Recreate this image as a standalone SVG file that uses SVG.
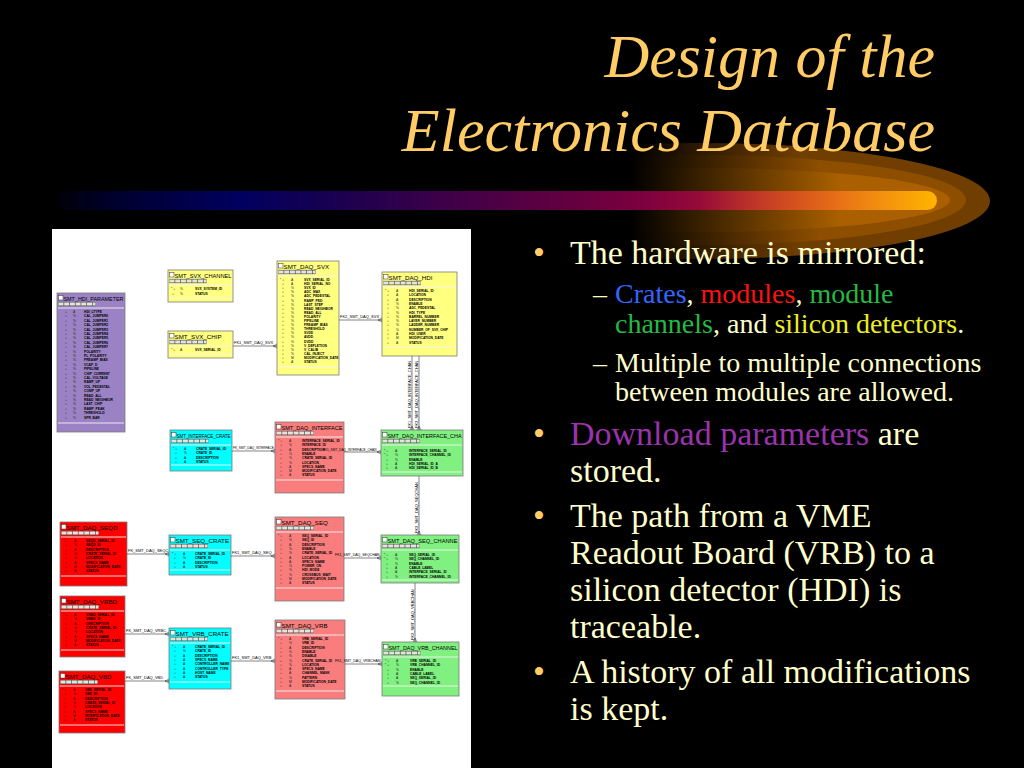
<svg xmlns="http://www.w3.org/2000/svg" width="1024" height="768" viewBox="0 0 1024 768">
<defs>
<linearGradient id="barG" gradientUnits="userSpaceOnUse" x1="57" y1="0" x2="937" y2="0">
<stop offset="0" stop-color="#000008"/>
<stop offset="0.07" stop-color="#000030"/>
<stop offset="0.21" stop-color="#000060"/>
<stop offset="0.31" stop-color="#180050"/>
<stop offset="0.45" stop-color="#400048"/>
<stop offset="0.57" stop-color="#600040"/>
<stop offset="0.66" stop-color="#7a0040"/>
<stop offset="0.73" stop-color="#960a38"/>
<stop offset="0.80" stop-color="#c43a26"/>
<stop offset="0.87" stop-color="#e26418"/>
<stop offset="0.93" stop-color="#f28c10"/>
<stop offset="1" stop-color="#ffb400"/>
</linearGradient>
<linearGradient id="sw1" gradientUnits="userSpaceOnUse" x1="630" y1="0" x2="800" y2="0">
<stop offset="0" stop-color="#000"/><stop offset="1" stop-color="#703e00"/>
</linearGradient>
<linearGradient id="sw2" gradientUnits="userSpaceOnUse" x1="630" y1="0" x2="820" y2="0">
<stop offset="0" stop-color="#000"/><stop offset="1" stop-color="#8e4e00"/>
</linearGradient>
<linearGradient id="sw3" gradientUnits="userSpaceOnUse" x1="630" y1="0" x2="840" y2="0">
<stop offset="0" stop-color="#000"/><stop offset="1" stop-color="#aa6000"/>
</linearGradient>
<marker id="crow" markerWidth="6" markerHeight="6" refX="4" refY="3" orient="auto" markerUnits="userSpaceOnUse">
<path d="M0,3 L4,1 M0,3 L4,5 M0,3 H4" fill="none" stroke="#333" stroke-width="0.5"/>
</marker>
<style>
.title{font-family:"Liberation Serif","Times New Roman",serif;font-style:italic;font-size:62px;fill:#FFCC66}
.b{font-family:"Liberation Serif","Times New Roman",serif;font-size:34px;fill:#FFFFCC}
.s{font-family:"Liberation Serif","Times New Roman",serif;font-size:28px;fill:#FFFFCC}
.dot{fill:#FFCC66}
.box{stroke:#7a7a7a;stroke-width:0.8}
.yel{fill:#FFFF80}.cya{fill:#00FFFF}.sal{fill:#FA7D7D}.grn{fill:#80F080}.red{fill:#FF0000}.pur{fill:#9B82C4}
.ico{fill:#fff;stroke:#333;stroke-width:0.5}
.tt{font-family:"Liberation Sans",Arial,sans-serif;font-size:6.2px;fill:#000}
.tb{fill:#555;stroke:#555;stroke-width:0.3}
.tbc{stroke:#e4e4dc;stroke-width:3.2;stroke-dasharray:5 0.7}
.sep{stroke:#f4f4f4;stroke-width:0.9}
.rn{font-family:"Liberation Sans",Arial,sans-serif;font-weight:bold;font-size:3.3px;fill:#000}
.rk{font-family:"Liberation Sans",Arial,sans-serif;font-size:3.3px;fill:#222}
.cn{fill:none;stroke:#333;stroke-width:0.6}
.cl{font-family:"Liberation Sans",Arial,sans-serif;font-size:4px;fill:#000}
</style>
</defs>
<rect x="0" y="0" width="1024" height="768" fill="#000"/>

<g id="swoosh">
<ellipse cx="700" cy="201" rx="290" ry="58" fill="url(#sw1)"/>
<ellipse cx="700" cy="200" rx="266" ry="45" fill="url(#sw2)"/>
<ellipse cx="700" cy="200" rx="250" ry="32" fill="url(#sw3)"/>
<rect x="57" y="191" width="880" height="19" rx="9.5" fill="url(#barG)"/>
</g>

<g id="heading">
<text class="title" x="935" y="77" text-anchor="end">Design of the</text>
<text class="title" x="935" y="151" text-anchor="end">Electronics Database</text>
</g>

<g id="bullets">
<text class="b dot" x="533" y="264">•</text>
<text class="b" x="570" y="264">The hardware is mirrored:</text>
<text class="s" x="593" y="303">–</text>
<text class="s" x="615" y="303"><tspan fill="#3366FF">Crates</tspan>, <tspan fill="#FF1111">modules</tspan>, <tspan fill="#22BB44">module</tspan></text>
<text class="s" x="615" y="333"><tspan fill="#22BB44">channels</tspan>, and <tspan fill="#EEEE22">silicon detectors</tspan>.</text>
<text class="s" x="593" y="372">–</text>
<text class="s" x="615" y="372">Multiple to multiple connections</text>
<text class="s" x="615" y="401">between modules are allowed.</text>
<text class="b dot" x="533" y="445">•</text>
<text class="b" x="570" y="445"><tspan fill="#9933AA">Download parameters</tspan> are</text>
<text class="b" x="570" y="482">stored.</text>
<text class="b dot" x="533" y="527">•</text>
<text class="b" x="570" y="527">The path from a VME</text>
<text class="b" x="570" y="564">Readout Board (VRB) to a</text>
<text class="b" x="570" y="601">silicon detector (HDI) is</text>
<text class="b" x="570" y="638">traceable.</text>
<text class="b dot" x="533" y="683">•</text>
<text class="b" x="570" y="683">A history of all modifications</text>
<text class="b" x="570" y="720">is kept.</text>
</g>

<g id="er-diagram">
<rect x="52" y="229" width="419" height="539" fill="#fff"/>

<g id="n-hdi-parameter">
<rect class="box pur" x="57" y="293" width="68" height="139"/>
<rect class="ico" x="58.5" y="295.5" width="4.5" height="4.5"/>
<text class="tt" x="63.5" y="300.5" textLength="60" lengthAdjust="spacingAndGlyphs">SMT_HDI_PARAMETER</text>
<rect class="tb" x="58.5" y="302" width="37" height="4"/><line class="tbc" x1="58.5" y1="304" x2="95.5" y2="304"/>
<line class="sep" x1="58" y1="308" x2="124" y2="308"/>
<text class="rk"><tspan x="65" y="313">○</tspan><tspan x="65" dy="4.4">○</tspan><tspan x="65" dy="4.4">○</tspan><tspan x="65" dy="4.4">○</tspan><tspan x="65" dy="4.4">○</tspan><tspan x="65" dy="4.4">○</tspan><tspan x="65" dy="4.4">○</tspan><tspan x="65" dy="4.4">○</tspan><tspan x="65" dy="4.4">○</tspan><tspan x="65" dy="4.4">○</tspan><tspan x="65" dy="4.4">○</tspan><tspan x="65" dy="4.4">○</tspan><tspan x="65" dy="4.4">○</tspan><tspan x="65" dy="4.4">○</tspan><tspan x="65" dy="4.4">○</tspan><tspan x="65" dy="4.4">○</tspan><tspan x="65" dy="4.4">○</tspan><tspan x="65" dy="4.4">○</tspan><tspan x="65" dy="4.4">○</tspan><tspan x="65" dy="4.4">○</tspan><tspan x="65" dy="4.4">○</tspan><tspan x="65" dy="4.4">○</tspan><tspan x="65" dy="4.4">○</tspan><tspan x="65" dy="4.4">○</tspan><tspan x="65" dy="4.4">○</tspan></text>
<text class="rk"><tspan x="73" y="313">A</tspan><tspan x="73" dy="4.4">%</tspan><tspan x="73" dy="4.4">%</tspan><tspan x="73" dy="4.4">%</tspan><tspan x="73" dy="4.4">%</tspan><tspan x="73" dy="4.4">%</tspan><tspan x="73" dy="4.4">%</tspan><tspan x="73" dy="4.4">%</tspan><tspan x="73" dy="4.4">%</tspan><tspan x="73" dy="4.4">%</tspan><tspan x="73" dy="4.4">%</tspan><tspan x="73" dy="4.4">%</tspan><tspan x="73" dy="4.4">%</tspan><tspan x="73" dy="4.4">%</tspan><tspan x="73" dy="4.4">%</tspan><tspan x="73" dy="4.4">%</tspan><tspan x="73" dy="4.4">%</tspan><tspan x="73" dy="4.4">%</tspan><tspan x="73" dy="4.4">%</tspan><tspan x="73" dy="4.4">%</tspan><tspan x="73" dy="4.4">%</tspan><tspan x="73" dy="4.4">%</tspan><tspan x="73" dy="4.4">%</tspan><tspan x="73" dy="4.4">%</tspan><tspan x="73" dy="4.4">%</tspan></text>
<text class="rn"><tspan x="84" y="313">HDI_LTYPE</tspan><tspan x="84" dy="4.4">CAL_JUMPER0</tspan><tspan x="84" dy="4.4">CAL_JUMPER1</tspan><tspan x="84" dy="4.4">CAL_JUMPER2</tspan><tspan x="84" dy="4.4">CAL_JUMPER3</tspan><tspan x="84" dy="4.4">CAL_JUMPER4</tspan><tspan x="84" dy="4.4">CAL_JUMPER5</tspan><tspan x="84" dy="4.4">CAL_JUMPER6</tspan><tspan x="84" dy="4.4">CAL_JUMPER7</tspan><tspan x="84" dy="4.4">POLARITY</tspan><tspan x="84" dy="4.4">PL_POLARITY</tspan><tspan x="84" dy="4.4">PREAMP_BIAS</tspan><tspan x="84" dy="4.4">VCAP_D</tspan><tspan x="84" dy="4.4">PIPELINE</tspan><tspan x="84" dy="4.4">CHIP_CURRENT</tspan><tspan x="84" dy="4.4">CAL_VOLTAGE</tspan><tspan x="84" dy="4.4">RAMP_UP</tspan><tspan x="84" dy="4.4">VOL_PEDESTAL</tspan><tspan x="84" dy="4.4">COMP_UP</tspan><tspan x="84" dy="4.4">READ_ALL</tspan><tspan x="84" dy="4.4">READ_NEIGHBOR</tspan><tspan x="84" dy="4.4">LAST_CHIP</tspan><tspan x="84" dy="4.4">RAMP_PEAK</tspan><tspan x="84" dy="4.4">THRESHOLD</tspan><tspan x="84" dy="4.4">SPR_BAR</tspan></text>
<line class="sep" x1="58" y1="423" x2="124" y2="423"/>
</g>

<g id="n-svx-channel">
<rect class="box yel" x="168" y="270" width="65" height="32"/>
<rect class="ico" x="169.5" y="272.5" width="4.5" height="4.5"/>
<text class="tt" x="174.5" y="277.5" textLength="57" lengthAdjust="spacingAndGlyphs">SMT_SVX_CHANNEL</text>
<rect class="tb" x="169.5" y="279" width="37" height="4"/><line class="tbc" x1="169.5" y1="281" x2="206.5" y2="281"/>
<line class="sep" x1="169" y1="285" x2="232" y2="285"/>
<text class="rk"><tspan x="171" y="290">* ○</tspan><tspan x="172" dy="4.8">○</tspan></text>
<text class="rk"><tspan x="180" y="290">%</tspan><tspan x="180" dy="4.8">%</tspan></text>
<text class="rn"><tspan x="195" y="290">SVX_SYSTEM_ID</tspan><tspan x="195" dy="4.8">STATUS</tspan></text>
<line class="sep" x1="169" y1="298" x2="232" y2="298"/>
</g>

<g id="n-svx-chip">
<rect class="box yel" x="168" y="331" width="65" height="27"/>
<rect class="ico" x="169.5" y="333.5" width="4.5" height="4.5"/>
<text class="tt" x="174.5" y="338.5">SMT_SVX_CHIP</text>
<rect class="tb" x="169.5" y="340" width="37" height="4"/><line class="tbc" x1="169.5" y1="342" x2="206.5" y2="342"/>
<line class="sep" x1="169" y1="346" x2="232" y2="346"/>
<text class="rk" x="171" y="351">* ○</text>
<text class="rk" x="180" y="351">A</text>
<text class="rn" x="195" y="351">SVX_SERIAL_ID</text>
<line class="sep" x1="169" y1="354" x2="232" y2="354"/>
</g>

<g id="n-daq-svx">
<rect class="box yel" x="277" y="261" width="62" height="114"/>
<rect class="ico" x="278.5" y="263.5" width="4.5" height="4.5"/>
<text class="tt" x="283.5" y="268.5">SMT_DAQ_SVX</text>
<rect class="tb" x="278.5" y="270" width="37" height="4"/><line class="tbc" x1="278.5" y1="272" x2="315.5" y2="272"/>
<line class="sep" x1="278" y1="276" x2="338" y2="276"/>
<text class="rk"><tspan x="280" y="281">* ○</tspan><tspan x="282" dy="4.1">○</tspan><tspan x="282" dy="4.1">○</tspan><tspan x="282" dy="4.1">○</tspan><tspan x="282" dy="4.1">○</tspan><tspan x="282" dy="4.1">○</tspan><tspan x="282" dy="4.1">○</tspan><tspan x="282" dy="4.1">○</tspan><tspan x="282" dy="4.1">○</tspan><tspan x="282" dy="4.1">○</tspan><tspan x="282" dy="4.1">○</tspan><tspan x="282" dy="4.1">○</tspan><tspan x="282" dy="4.1">○</tspan><tspan x="282" dy="4.1">○</tspan><tspan x="282" dy="4.1">○</tspan><tspan x="282" dy="4.1">○</tspan><tspan x="282" dy="4.1">○</tspan><tspan x="282" dy="4.1">○</tspan><tspan x="282" dy="4.1">○</tspan><tspan x="282" dy="4.1">○</tspan><tspan x="282" dy="4.1">○</tspan></text>
<text class="rk"><tspan x="291" y="281">A</tspan><tspan x="291" dy="4.1">A</tspan><tspan x="291" dy="4.1">%</tspan><tspan x="291" dy="4.1">%</tspan><tspan x="291" dy="4.1">%</tspan><tspan x="291" dy="4.1">%</tspan><tspan x="291" dy="4.1">%</tspan><tspan x="291" dy="4.1">%</tspan><tspan x="291" dy="4.1">%</tspan><tspan x="291" dy="4.1">%</tspan><tspan x="291" dy="4.1">%</tspan><tspan x="291" dy="4.1">%</tspan><tspan x="291" dy="4.1">%</tspan><tspan x="291" dy="4.1">%</tspan><tspan x="291" dy="4.1">%</tspan><tspan x="291" dy="4.1">%</tspan><tspan x="291" dy="4.1">%</tspan><tspan x="291" dy="4.1">%</tspan><tspan x="291" dy="4.1">%</tspan><tspan x="291" dy="4.1">M</tspan><tspan x="291" dy="4.1">A</tspan></text>
<text class="rn"><tspan x="304" y="281">SVX_SERIAL_ID</tspan><tspan x="304" dy="4.1">HDI_SERIAL_NO</tspan><tspan x="304" dy="4.1">SVX_ID</tspan><tspan x="304" dy="4.1">ADC_MAX</tspan><tspan x="304" dy="4.1">ADC_PEDESTAL</tspan><tspan x="304" dy="4.1">RAMP_PED</tspan><tspan x="304" dy="4.1">LAST_STEP</tspan><tspan x="304" dy="4.1">READ_NEIGHBOR</tspan><tspan x="304" dy="4.1">READ_ALL</tspan><tspan x="304" dy="4.1">POLARITY</tspan><tspan x="304" dy="4.1">PIPELINE</tspan><tspan x="304" dy="4.1">PREAMP_BIAS</tspan><tspan x="304" dy="4.1">THRESHOLD</tspan><tspan x="304" dy="4.1">SVDD</tspan><tspan x="304" dy="4.1">AVDD</tspan><tspan x="304" dy="4.1">DVDD</tspan><tspan x="304" dy="4.1">V_DEPLETION</tspan><tspan x="304" dy="4.1">V_CALIB</tspan><tspan x="304" dy="4.1">CAL_INJECT</tspan><tspan x="304" dy="4.1">MODIFICATION_DATE</tspan><tspan x="304" dy="4.1">STATUS</tspan></text>
<line class="sep" x1="278" y1="367" x2="338" y2="367"/>
</g>

<g id="n-daq-hdi">
<rect class="box yel" x="382" y="272" width="75" height="84"/>
<rect class="ico" x="383.5" y="274.5" width="4.5" height="4.5"/>
<text class="tt" x="388.5" y="279.5">SMT_DAQ_HDI</text>
<rect class="tb" x="383.5" y="281" width="37" height="4"/><line class="tbc" x1="383.5" y1="283" x2="420.5" y2="283"/>
<line class="sep" x1="383" y1="287" x2="456" y2="287"/>
<text class="rk"><tspan x="385" y="292">* ○</tspan><tspan x="387" dy="4.3">○</tspan><tspan x="387" dy="4.3">○</tspan><tspan x="387" dy="4.3">○</tspan><tspan x="387" dy="4.3">○</tspan><tspan x="387" dy="4.3">○</tspan><tspan x="387" dy="4.3">○</tspan><tspan x="387" dy="4.3">○</tspan><tspan x="387" dy="4.3">○</tspan><tspan x="387" dy="4.3">○</tspan><tspan x="387" dy="4.3">○</tspan><tspan x="387" dy="4.3">○</tspan><tspan x="387" dy="4.3">○</tspan></text>
<text class="rk"><tspan x="396" y="292">A</tspan><tspan x="396" dy="4.3">A</tspan><tspan x="396" dy="4.3">A</tspan><tspan x="396" dy="4.3">%</tspan><tspan x="396" dy="4.3">%</tspan><tspan x="396" dy="4.3">%</tspan><tspan x="396" dy="4.3">%</tspan><tspan x="396" dy="4.3">%</tspan><tspan x="396" dy="4.3">%</tspan><tspan x="396" dy="4.3">%</tspan><tspan x="396" dy="4.3">A</tspan><tspan x="396" dy="4.3">M</tspan><tspan x="396" dy="4.3">A</tspan></text>
<text class="rn"><tspan x="409" y="292">HDI_SERIAL_ID</tspan><tspan x="409" dy="4.3">LOCATION</tspan><tspan x="409" dy="4.3">DESCRIPTION</tspan><tspan x="409" dy="4.3">ENABLE</tspan><tspan x="409" dy="4.3">ADC_PEDESTAL</tspan><tspan x="409" dy="4.3">HDI_TYPE</tspan><tspan x="409" dy="4.3">BARREL_NUMBER</tspan><tspan x="409" dy="4.3">LAYER_NUMBER</tspan><tspan x="409" dy="4.3">LADDER_NUMBER</tspan><tspan x="409" dy="4.3">NUMBER_OF_SVX_CHIP</tspan><tspan x="409" dy="4.3">HDI_USER</tspan><tspan x="409" dy="4.3">MODIFICATION_DATE</tspan><tspan x="409" dy="4.3">STATUS</tspan></text>
<line class="sep" x1="383" y1="347" x2="456" y2="347"/>
</g>

<g id="n-interface-crate">
<rect class="box cya" x="170" y="430" width="62" height="41"/>
<rect class="ico" x="171.5" y="432.5" width="4.5" height="4.5"/>
<text class="tt" x="176.5" y="437.5" textLength="54" lengthAdjust="spacingAndGlyphs">SMT_INTERFACE_CRATE</text>
<rect class="tb" x="171.5" y="439" width="37" height="4"/><line class="tbc" x1="171.5" y1="441" x2="208.5" y2="441"/>
<line class="sep" x1="171" y1="445" x2="231" y2="445"/>
<text class="rk"><tspan x="173" y="450">* ○</tspan><tspan x="175" dy="4.3">○</tspan><tspan x="175" dy="4.3">○</tspan><tspan x="175" dy="4.3">○</tspan></text>
<text class="rk"><tspan x="184" y="450">A</tspan><tspan x="184" dy="4.3">%</tspan><tspan x="184" dy="4.3">A</tspan><tspan x="184" dy="4.3">A</tspan></text>
<text class="rn"><tspan x="196" y="450">CRATE_SERIAL_ID</tspan><tspan x="196" dy="4.3">CRATE_ID</tspan><tspan x="196" dy="4.3">DESCRIPTION</tspan><tspan x="196" dy="4.3">STATUS</tspan></text>
<line class="sep" x1="171" y1="465" x2="231" y2="465"/>
</g>

<g id="n-daq-interface">
<rect class="box sal" x="275" y="422" width="69" height="71"/>
<rect class="ico" x="276.5" y="424.5" width="4.5" height="4.5"/>
<text class="tt" x="281.5" y="429.5" textLength="61" lengthAdjust="spacingAndGlyphs">SMT_DAQ_INTERFACE</text>
<rect class="tb" x="276.5" y="431" width="37" height="4"/><line class="tbc" x1="276.5" y1="433" x2="313.5" y2="433"/>
<line class="sep" x1="276" y1="437" x2="343" y2="437"/>
<text class="rk"><tspan x="278" y="442">* ○</tspan><tspan x="280" dy="4.3">○</tspan><tspan x="280" dy="4.3">○</tspan><tspan x="280" dy="4.3">○</tspan><tspan x="280" dy="4.3">○</tspan><tspan x="280" dy="4.3">○</tspan><tspan x="280" dy="4.3">○</tspan><tspan x="280" dy="4.3">○</tspan><tspan x="280" dy="4.3">○</tspan></text>
<text class="rk"><tspan x="289" y="442">A</tspan><tspan x="289" dy="4.3">%</tspan><tspan x="289" dy="4.3">A</tspan><tspan x="289" dy="4.3">%</tspan><tspan x="289" dy="4.3">%</tspan><tspan x="289" dy="4.3">%</tspan><tspan x="289" dy="4.3">A</tspan><tspan x="289" dy="4.3">M</tspan><tspan x="289" dy="4.3">A</tspan></text>
<text class="rn"><tspan x="302" y="442">INTERFACE_SERIAL_ID</tspan><tspan x="302" dy="4.3">INTERFACE_ID</tspan><tspan x="302" dy="4.3">DESCRIPTION</tspan><tspan x="302" dy="4.3">ENABLE</tspan><tspan x="302" dy="4.3">CRATE_SERIAL_ID</tspan><tspan x="302" dy="4.3">LOCATION</tspan><tspan x="302" dy="4.3">SPECS_NAME</tspan><tspan x="302" dy="4.3">MODIFICATION_DATE</tspan><tspan x="302" dy="4.3">STATUS</tspan></text>
<line class="sep" x1="276" y1="480" x2="343" y2="480"/>
</g>

<g id="n-daq-interface-channel">
<rect class="box grn" x="381" y="430" width="82" height="46"/>
<rect class="ico" x="382.5" y="432.5" width="4.5" height="4.5"/>
<text class="tt" x="387.5" y="437.5" textLength="74" lengthAdjust="spacingAndGlyphs">SMT_DAQ_INTERFACE_CHA</text>
<rect class="tb" x="382.5" y="439" width="37" height="4"/><line class="tbc" x1="382.5" y1="441" x2="419.5" y2="441"/>
<line class="sep" x1="382" y1="445" x2="462" y2="445"/>
<text class="rk"><tspan x="384" y="452">* ○</tspan><tspan x="384" dy="4.3">* ○</tspan><tspan x="386" dy="4.3">○</tspan><tspan x="386" dy="4.3">○</tspan><tspan x="386" dy="4.3">○</tspan></text>
<text class="rk"><tspan x="395" y="452">A</tspan><tspan x="395" dy="4.3">%</tspan><tspan x="395" dy="4.3">%</tspan><tspan x="395" dy="4.3">A</tspan><tspan x="395" dy="4.3">A</tspan></text>
<text class="rn"><tspan x="409" y="452">INTERFACE_SERIAL_ID</tspan><tspan x="409" dy="4.3">INTERFACE_CHANNEL_ID</tspan><tspan x="409" dy="4.3">ENABLE</tspan><tspan x="409" dy="4.3">HDI_SERIAL_ID_A</tspan><tspan x="409" dy="4.3">HDI_SERIAL_ID_B</tspan></text>
<line class="sep" x1="382" y1="472" x2="462" y2="472"/>
</g>

<g id="n-daq-seqd">
<rect class="box red" x="60" y="522" width="67" height="64"/>
<rect class="ico" x="61.5" y="524.5" width="4.5" height="4.5"/>
<text class="tt" x="66.5" y="529.5">SMT_DAQ_SEQD</text>
<rect class="tb" x="61.5" y="531" width="37" height="4"/><line class="tbc" x1="61.5" y1="533" x2="98.5" y2="533"/>
<line class="sep" x1="61" y1="537" x2="126" y2="537"/>
<text class="rk"><tspan x="63" y="542">* ○</tspan><tspan x="65" dy="4.3">○</tspan><tspan x="65" dy="4.3">○</tspan><tspan x="65" dy="4.3">○</tspan><tspan x="65" dy="4.3">○</tspan><tspan x="65" dy="4.3">○</tspan><tspan x="65" dy="4.3">○</tspan><tspan x="65" dy="4.3">○</tspan></text>
<text class="rk"><tspan x="74" y="542">A</tspan><tspan x="74" dy="4.3">%</tspan><tspan x="74" dy="4.3">A</tspan><tspan x="74" dy="4.3">%</tspan><tspan x="74" dy="4.3">%</tspan><tspan x="74" dy="4.3">A</tspan><tspan x="74" dy="4.3">M</tspan><tspan x="74" dy="4.3">A</tspan></text>
<text class="rn"><tspan x="86" y="542">SEQD_SERIAL_ID</tspan><tspan x="86" dy="4.3">SEQD_ID</tspan><tspan x="86" dy="4.3">DESCRIPTION</tspan><tspan x="86" dy="4.3">CRATE_SERIAL_ID</tspan><tspan x="86" dy="4.3">LOCATION</tspan><tspan x="86" dy="4.3">SPECS_NAME</tspan><tspan x="86" dy="4.3">MODIFICATION_DATE</tspan><tspan x="86" dy="4.3">STATUS</tspan></text>
<line class="sep" x1="61" y1="576" x2="126" y2="576"/>
</g>

<g id="n-seq-crate">
<rect class="box cya" x="169" y="535" width="62" height="40"/>
<rect class="ico" x="170.5" y="537.5" width="4.5" height="4.5"/>
<text class="tt" x="175.5" y="542.5">SMT_SEQ_CRATE</text>
<rect class="tb" x="170.5" y="544" width="37" height="4"/><line class="tbc" x1="170.5" y1="546" x2="207.5" y2="546"/>
<line class="sep" x1="170" y1="550" x2="230" y2="550"/>
<text class="rk"><tspan x="172" y="555">* ○</tspan><tspan x="174" dy="4.3">○</tspan><tspan x="174" dy="4.3">○</tspan><tspan x="174" dy="4.3">○</tspan></text>
<text class="rk"><tspan x="183" y="555">A</tspan><tspan x="183" dy="4.3">%</tspan><tspan x="183" dy="4.3">A</tspan><tspan x="183" dy="4.3">A</tspan></text>
<text class="rn"><tspan x="195" y="555">CRATE_SERIAL_ID</tspan><tspan x="195" dy="4.3">CRATE_ID</tspan><tspan x="195" dy="4.3">DESCRIPTION</tspan><tspan x="195" dy="4.3">STATUS</tspan></text>
<line class="sep" x1="170" y1="570" x2="230" y2="570"/>
</g>

<g id="n-daq-seq">
<rect class="box sal" x="275" y="517" width="69" height="84"/>
<rect class="ico" x="276.5" y="519.5" width="4.5" height="4.5"/>
<text class="tt" x="281.5" y="524.5">SMT_DAQ_SEQ</text>
<rect class="tb" x="276.5" y="526" width="37" height="4"/><line class="tbc" x1="276.5" y1="528" x2="313.5" y2="528"/>
<line class="sep" x1="276" y1="532" x2="343" y2="532"/>
<text class="rk"><tspan x="278" y="537">* ○</tspan><tspan x="280" dy="4.3">○</tspan><tspan x="280" dy="4.3">○</tspan><tspan x="280" dy="4.3">○</tspan><tspan x="280" dy="4.3">○</tspan><tspan x="280" dy="4.3">○</tspan><tspan x="280" dy="4.3">○</tspan><tspan x="280" dy="4.3">○</tspan><tspan x="280" dy="4.3">○</tspan><tspan x="280" dy="4.3">○</tspan><tspan x="280" dy="4.3">○</tspan><tspan x="280" dy="4.3">○</tspan></text>
<text class="rk"><tspan x="289" y="537">A</tspan><tspan x="289" dy="4.3">%</tspan><tspan x="289" dy="4.3">A</tspan><tspan x="289" dy="4.3">%</tspan><tspan x="289" dy="4.3">%</tspan><tspan x="289" dy="4.3">A</tspan><tspan x="289" dy="4.3">A</tspan><tspan x="289" dy="4.3">%</tspan><tspan x="289" dy="4.3">%</tspan><tspan x="289" dy="4.3">%</tspan><tspan x="289" dy="4.3">M</tspan><tspan x="289" dy="4.3">A</tspan></text>
<text class="rn"><tspan x="302" y="537">SEQ_SERIAL_ID</tspan><tspan x="302" dy="4.3">SEQ_ID</tspan><tspan x="302" dy="4.3">DESCRIPTION</tspan><tspan x="302" dy="4.3">ENABLE</tspan><tspan x="302" dy="4.3">CRATE_SERIAL_ID</tspan><tspan x="302" dy="4.3">LOCATION</tspan><tspan x="302" dy="4.3">SPECS_NAME</tspan><tspan x="302" dy="4.3">POWER_ON</tspan><tspan x="302" dy="4.3">HDI_MODE</tspan><tspan x="302" dy="4.3">CROSSBUS_WAIT</tspan><tspan x="302" dy="4.3">MODIFICATION_DATE</tspan><tspan x="302" dy="4.3">STATUS</tspan></text>
<line class="sep" x1="276" y1="588" x2="343" y2="588"/>
</g>

<g id="n-daq-seq-channel">
<rect class="box grn" x="381" y="535" width="78" height="48"/>
<rect class="ico" x="382.5" y="537.5" width="4.5" height="4.5"/>
<text class="tt" x="387.5" y="542.5" textLength="70" lengthAdjust="spacingAndGlyphs">SMT_DAQ_SEQ_CHANNE</text>
<rect class="tb" x="382.5" y="544" width="37" height="4"/><line class="tbc" x1="382.5" y1="546" x2="419.5" y2="546"/>
<line class="sep" x1="382" y1="550" x2="458" y2="550"/>
<text class="rk"><tspan x="384" y="556">* ○</tspan><tspan x="384" dy="4.3">* ○</tspan><tspan x="386" dy="4.3">○</tspan><tspan x="386" dy="4.3">○</tspan><tspan x="386" dy="4.3">○</tspan><tspan x="386" dy="4.3">○</tspan></text>
<text class="rk"><tspan x="395" y="556">A</tspan><tspan x="395" dy="4.3">%</tspan><tspan x="395" dy="4.3">%</tspan><tspan x="395" dy="4.3">A</tspan><tspan x="395" dy="4.3">A</tspan><tspan x="395" dy="4.3">%</tspan></text>
<text class="rn"><tspan x="409" y="556">SEQ_SERIAL_ID</tspan><tspan x="409" dy="4.3">SEQ_CHANNEL_ID</tspan><tspan x="409" dy="4.3">ENABLE</tspan><tspan x="409" dy="4.3">CABLE_LABEL</tspan><tspan x="409" dy="4.3">INTERFACE_SERIAL_ID</tspan><tspan x="409" dy="4.3">INTERFACE_CHANNEL_ID</tspan></text>
<line class="sep" x1="382" y1="580" x2="458" y2="580"/>
</g>

<g id="n-daq-vrbd">
<rect class="box red" x="60" y="596" width="65" height="61"/>
<rect class="ico" x="61.5" y="598.5" width="4.5" height="4.5"/>
<text class="tt" x="66.5" y="603.5">SMT_DAQ_VRBD</text>
<rect class="tb" x="61.5" y="605" width="37" height="4"/><line class="tbc" x1="61.5" y1="607" x2="98.5" y2="607"/>
<line class="sep" x1="61" y1="611" x2="124" y2="611"/>
<text class="rk"><tspan x="63" y="616">* ○</tspan><tspan x="65" dy="4.3">○</tspan><tspan x="65" dy="4.3">○</tspan><tspan x="65" dy="4.3">○</tspan><tspan x="65" dy="4.3">○</tspan><tspan x="65" dy="4.3">○</tspan><tspan x="65" dy="4.3">○</tspan><tspan x="65" dy="4.3">○</tspan></text>
<text class="rk"><tspan x="74" y="616">A</tspan><tspan x="74" dy="4.3">%</tspan><tspan x="74" dy="4.3">A</tspan><tspan x="74" dy="4.3">%</tspan><tspan x="74" dy="4.3">%</tspan><tspan x="74" dy="4.3">A</tspan><tspan x="74" dy="4.3">M</tspan><tspan x="74" dy="4.3">A</tspan></text>
<text class="rn"><tspan x="86" y="616">VRBD_SERIAL_ID</tspan><tspan x="86" dy="4.3">VRBD_ID</tspan><tspan x="86" dy="4.3">DESCRIPTION</tspan><tspan x="86" dy="4.3">CRATE_SERIAL_ID</tspan><tspan x="86" dy="4.3">LOCATION</tspan><tspan x="86" dy="4.3">SPECS_NAME</tspan><tspan x="86" dy="4.3">MODIFICATION_DATE</tspan><tspan x="86" dy="4.3">STATUS</tspan></text>
<line class="sep" x1="61" y1="650" x2="124" y2="650"/>
</g>

<g id="n-vrb-crate">
<rect class="box cya" x="169" y="628" width="62" height="61"/>
<rect class="ico" x="170.5" y="630.5" width="4.5" height="4.5"/>
<text class="tt" x="175.5" y="635.5">SMT_VRB_CRATE</text>
<rect class="tb" x="170.5" y="637" width="37" height="4"/><line class="tbc" x1="170.5" y1="639" x2="207.5" y2="639"/>
<line class="sep" x1="170" y1="643" x2="230" y2="643"/>
<text class="rk"><tspan x="172" y="648">* ○</tspan><tspan x="174" dy="4.3">○</tspan><tspan x="174" dy="4.3">○</tspan><tspan x="174" dy="4.3">○</tspan><tspan x="174" dy="4.3">○</tspan><tspan x="174" dy="4.3">○</tspan><tspan x="174" dy="4.3">○</tspan><tspan x="174" dy="4.3">○</tspan></text>
<text class="rk"><tspan x="183" y="648">A</tspan><tspan x="183" dy="4.3">%</tspan><tspan x="183" dy="4.3">A</tspan><tspan x="183" dy="4.3">A</tspan><tspan x="183" dy="4.3">A</tspan><tspan x="183" dy="4.3">A</tspan><tspan x="183" dy="4.3">A</tspan><tspan x="183" dy="4.3">A</tspan></text>
<text class="rn"><tspan x="195" y="648">CRATE_SERIAL_ID</tspan><tspan x="195" dy="4.3">CRATE_ID</tspan><tspan x="195" dy="4.3">DESCRIPTION</tspan><tspan x="195" dy="4.3">SPECS_NAME</tspan><tspan x="195" dy="4.3">CONTROLLER_NAME</tspan><tspan x="195" dy="4.3">CONTROLLER_TYPE</tspan><tspan x="195" dy="4.3">HOST_NAME</tspan><tspan x="195" dy="4.3">STATUS</tspan></text>
<line class="sep" x1="170" y1="682" x2="230" y2="682"/>
</g>

<g id="n-daq-vrb">
<rect class="box sal" x="275" y="620" width="70" height="79"/>
<rect class="ico" x="276.5" y="622.5" width="4.5" height="4.5"/>
<text class="tt" x="281.5" y="627.5">SMT_DAQ_VRB</text>
<rect class="tb" x="276.5" y="629" width="37" height="4"/><line class="tbc" x1="276.5" y1="631" x2="313.5" y2="631"/>
<line class="sep" x1="276" y1="635" x2="344" y2="635"/>
<text class="rk"><tspan x="278" y="640">* ○</tspan><tspan x="280" dy="4.3">○</tspan><tspan x="280" dy="4.3">○</tspan><tspan x="280" dy="4.3">○</tspan><tspan x="280" dy="4.3">○</tspan><tspan x="280" dy="4.3">○</tspan><tspan x="280" dy="4.3">○</tspan><tspan x="280" dy="4.3">○</tspan><tspan x="280" dy="4.3">○</tspan><tspan x="280" dy="4.3">○</tspan><tspan x="280" dy="4.3">○</tspan><tspan x="280" dy="4.3">○</tspan></text>
<text class="rk"><tspan x="289" y="640">A</tspan><tspan x="289" dy="4.3">%</tspan><tspan x="289" dy="4.3">A</tspan><tspan x="289" dy="4.3">%</tspan><tspan x="289" dy="4.3">%</tspan><tspan x="289" dy="4.3">%</tspan><tspan x="289" dy="4.3">%</tspan><tspan x="289" dy="4.3">A</tspan><tspan x="289" dy="4.3">A</tspan><tspan x="289" dy="4.3">%</tspan><tspan x="289" dy="4.3">M</tspan><tspan x="289" dy="4.3">A</tspan></text>
<text class="rn"><tspan x="302" y="640">VRB_SERIAL_ID</tspan><tspan x="302" dy="4.3">VRB_ID</tspan><tspan x="302" dy="4.3">DESCRIPTION</tspan><tspan x="302" dy="4.3">ENABLE</tspan><tspan x="302" dy="4.3">DISABLE</tspan><tspan x="302" dy="4.3">CRATE_SERIAL_ID</tspan><tspan x="302" dy="4.3">LOCATION</tspan><tspan x="302" dy="4.3">SPECS_NAME</tspan><tspan x="302" dy="4.3">CHANNEL_MASK</tspan><tspan x="302" dy="4.3">PATTERN</tspan><tspan x="302" dy="4.3">MODIFICATION_DATE</tspan><tspan x="302" dy="4.3">STATUS</tspan></text>
<line class="sep" x1="276" y1="691" x2="344" y2="691"/>
</g>

<g id="n-daq-vrb-channel">
<rect class="box grn" x="382" y="642" width="77" height="54"/>
<rect class="ico" x="383.5" y="644.5" width="4.5" height="4.5"/>
<text class="tt" x="388.5" y="649.5" textLength="69" lengthAdjust="spacingAndGlyphs">SMT_DAQ_VRB_CHANNEL</text>
<rect class="tb" x="383.5" y="651" width="37" height="4"/><line class="tbc" x1="383.5" y1="653" x2="420.5" y2="653"/>
<line class="sep" x1="383" y1="657" x2="458" y2="657"/>
<text class="rk"><tspan x="385" y="662">* ○</tspan><tspan x="385" dy="4.3">* ○</tspan><tspan x="387" dy="4.3">○</tspan><tspan x="387" dy="4.3">○</tspan><tspan x="387" dy="4.3">○</tspan><tspan x="387" dy="4.3">○</tspan></text>
<text class="rk"><tspan x="396" y="662">A</tspan><tspan x="396" dy="4.3">%</tspan><tspan x="396" dy="4.3">%</tspan><tspan x="396" dy="4.3">A</tspan><tspan x="396" dy="4.3">A</tspan><tspan x="396" dy="4.3">%</tspan></text>
<text class="rn"><tspan x="410" y="662">VRB_SERIAL_ID</tspan><tspan x="410" dy="4.3">VRB_CHANNEL_ID</tspan><tspan x="410" dy="4.3">ENABLE</tspan><tspan x="410" dy="4.3">CABLE_LABEL</tspan><tspan x="410" dy="4.3">SEQ_SERIAL_ID</tspan><tspan x="410" dy="4.3">SEQ_CHANNEL_ID</tspan></text>
<line class="sep" x1="383" y1="686" x2="458" y2="686"/>
</g>

<g id="n-daq-vbd">
<rect class="box red" x="59" y="671" width="66" height="62"/>
<rect class="ico" x="60.5" y="673.5" width="4.5" height="4.5"/>
<text class="tt" x="65.5" y="678.5">SMT_DAQ_VBD</text>
<rect class="tb" x="60.5" y="680" width="37" height="4"/><line class="tbc" x1="60.5" y1="682" x2="97.5" y2="682"/>
<line class="sep" x1="60" y1="686" x2="124" y2="686"/>
<text class="rk"><tspan x="62" y="691">* ○</tspan><tspan x="64" dy="4.3">○</tspan><tspan x="64" dy="4.3">○</tspan><tspan x="64" dy="4.3">○</tspan><tspan x="64" dy="4.3">○</tspan><tspan x="64" dy="4.3">○</tspan><tspan x="64" dy="4.3">○</tspan><tspan x="64" dy="4.3">○</tspan></text>
<text class="rk"><tspan x="73" y="691">A</tspan><tspan x="73" dy="4.3">%</tspan><tspan x="73" dy="4.3">A</tspan><tspan x="73" dy="4.3">%</tspan><tspan x="73" dy="4.3">%</tspan><tspan x="73" dy="4.3">A</tspan><tspan x="73" dy="4.3">M</tspan><tspan x="73" dy="4.3">A</tspan></text>
<text class="rn"><tspan x="85" y="691">VBD_SERIAL_ID</tspan><tspan x="85" dy="4.3">VBD_ID</tspan><tspan x="85" dy="4.3">DESCRIPTION</tspan><tspan x="85" dy="4.3">CRATE_SERIAL_ID</tspan><tspan x="85" dy="4.3">LOCATION</tspan><tspan x="85" dy="4.3">SPECS_NAME</tspan><tspan x="85" dy="4.3">MODIFICATION_DATE</tspan><tspan x="85" dy="4.3">STATUS</tspan></text>
<line class="sep" x1="60" y1="725" x2="124" y2="725"/>
</g>

<g id="connectors">
<path class="cn" d="M233,346 H277" marker-end="url(#crow)"/>
<text class="cl" x="234" y="344">FK1_SMT_DAQ_SVX</text>
<path class="cn" d="M339,320 H382" marker-end="url(#crow)"/>
<text class="cl" x="340" y="318">FK2_SMT_DAQ_SVX</text>
<path class="cn" d="M412,356 V430" marker-end="url(#crow)"/>
<text class="cl" transform="translate(411,428) rotate(-90)">FK1_SMT_DAQ_INTERFACE_CHAN</text>
<path class="cn" d="M419,356 V430" marker-end="url(#crow)"/>
<text class="cl" transform="translate(418,428) rotate(-90)">FK2_SMT_DAQ_INTERFACE_CHAN</text>
<path class="cn" d="M232,451 H275" marker-end="url(#crow)"/>
<text class="cl" x="233" y="449" style="font-size:3.2px">FK_SMT_DAQ_INTERFACE</text>
<path class="cn" d="M344,452 H381" marker-end="url(#crow)"/>
<text class="cl" x="323" y="450.5" style="font-size:3.2px">FK1_SMT_DAQ_INTERFACE_CHAN</text>
<path class="cn" d="M419,476 V535" marker-end="url(#crow)"/>
<text class="cl" transform="translate(418,533) rotate(-90)">FK2_SMT_DAQ_SEQCHAN</text>
<path class="cn" d="M127,554 H169" marker-end="url(#crow)"/>
<text class="cl" x="128" y="552">FK_SMT_DAQ_SEQC</text>
<path class="cn" d="M231,556 H275" marker-end="url(#crow)"/>
<text class="cl" x="232" y="554">FK1_SMT_DAQ_SEQ</text>
<path class="cn" d="M344,558 H381" marker-end="url(#crow)"/>
<text class="cl" x="335" y="556" style="font-size:3.5px">FK1_SMT_DAQ_SEQCHAN</text>
<path class="cn" d="M415,583 V642" marker-end="url(#crow)"/>
<text class="cl" transform="translate(414,640) rotate(-90)">FK2_SMT_DAQ_VRBCHAN</text>
<path class="cn" d="M125,634 H169" marker-end="url(#crow)"/>
<text class="cl" x="126" y="632">FK_SMT_DAQ_VRBC</text>
<path class="cn" d="M125,681 H169" marker-end="url(#crow)"/>
<text class="cl" x="126" y="679">FK_SMT_DAQ_VBD</text>
<path class="cn" d="M231,661 H275" marker-end="url(#crow)"/>
<text class="cl" x="232" y="659">FK1_SMT_DAQ_VRB</text>
<path class="cn" d="M345,664 H382" marker-end="url(#crow)"/>
<text class="cl" x="335" y="662" style="font-size:3.6px">FK1_SMT_DAQ_VRBCHAN</text>
</g>
</g>
</svg>
